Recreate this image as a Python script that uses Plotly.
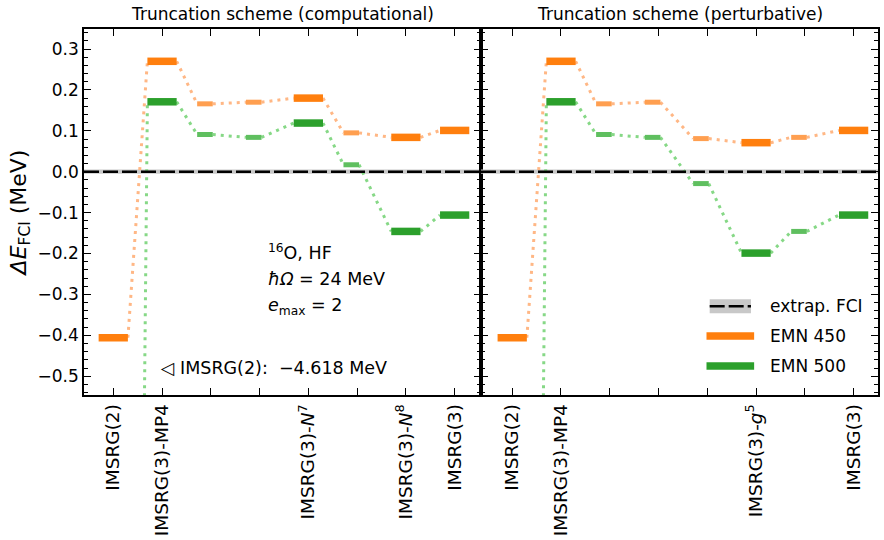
import plotly.graph_objects as go

# ---------------- data ----------------
ticks_left_pos = [0, 1, 4, 6, 7]
ticks_left = ["IMSRG(2)", "IMSRG(3)-MP4", "IMSRG(3)-<i>N</i><sup>7</sup>", "IMSRG(3)-<i>N</i><sup>8</sup>", "IMSRG(3)"]
ticks_right_pos = [0, 1, 5, 7]
ticks_right = ["IMSRG(2)", "IMSRG(3)-MP4", "IMSRG(3)-<i>g</i><sup>5</sup>", "IMSRG(3)"]

x_left = [0, 1, 1.88, 2.88, 4, 4.88, 6, 7]
kind_left = ["main", "main", "inter", "inter", "main", "inter", "main", "main"]
emn450_left = [-0.406, 0.270, 0.166, 0.170, 0.180, 0.095, 0.084, 0.101]
emn500_left = [-4.618, 0.171, 0.091, 0.084, 0.119, 0.017, -0.146, -0.106]

x_right = [0, 1, 1.88, 2.88, 3.87, 5, 5.88, 7]
kind_right = ["main", "main", "inter", "inter", "inter", "main", "inter", "main"]
emn450_right = [-0.406, 0.270, 0.166, 0.170, 0.081, 0.071, 0.084, 0.101]
emn500_right = [-4.618, 0.171, 0.091, 0.084, -0.029, -0.199, -0.146, -0.106]

fci_value = 0.0
fci_err = 0.004

series_names = ["EMN 450", "EMN 500"]
dark_colors = ["#ff7f0e", "#2ca02c"]
light_colors = ["#ff9f50", "#5fbf5f"]
dot_colors = ["#ffb785", "#86d886"]

FONT = "DejaVu Sans"

fig = go.Figure()


def extents(x, kind):
    if kind == "main":
        return x - 0.3, x + 0.3
    return x - 0.16, x + 0.16


def add_panel(xs, kinds, series_list, xa, ya, xr):
    # FCI band + line
    fig.add_trace(go.Scatter(x=[xr[0], xr[1]], y=[fci_value, fci_value], mode="lines",
                             line=dict(color="#c8c8c8", width=2 * fci_err * 410 + 1),
                             xaxis=xa, yaxis=ya, showlegend=False, hoverinfo="skip"))
    for si, vals in enumerate(series_list):
        # connectors
        cx, cy = [], []
        for i in range(len(xs) - 1):
            _, r = extents(xs[i], kinds[i])
            l, _ = extents(xs[i + 1], kinds[i + 1])
            cx += [r, l, None]
            cy += [vals[i], vals[i + 1], None]
        fig.add_trace(go.Scatter(x=cx, y=cy, mode="lines",
                                 line=dict(color=dot_colors[si], width=3, dash="3px,5px"),
                                 xaxis=xa, yaxis=ya, showlegend=False, hoverinfo="skip"))
        for kind, col, w in (("inter", light_colors[si], 5), ("main", dark_colors[si], 7.5)):
            bx, by = [], []
            for i in range(len(xs)):
                if kinds[i] != kind:
                    continue
                l, r = extents(xs[i], kinds[i])
                bx += [l, r, None]
                by += [vals[i], vals[i], None]
            fig.add_trace(go.Scatter(x=bx, y=by, mode="lines",
                                     line=dict(color=col, width=w),
                                     name=series_names[si],
                                     xaxis=xa, yaxis=ya, showlegend=False, hoverinfo="skip"))
    fig.add_trace(go.Scatter(x=[xr[0], xr[1]], y=[fci_value, fci_value], mode="lines",
                             line=dict(color="black", width=2.5, dash="15px,4px"),
                             xaxis=xa, yaxis=ya, showlegend=False, hoverinfo="skip"))


xr_left = [-0.6, 7.54]
xr_right = [-0.64, 7.5]
add_panel(x_left, kind_left, [emn450_left, emn500_left], "x", "y", xr_left)
add_panel(x_right, kind_right, [emn450_right, emn500_right], "x2", "y2", xr_right)

yrange = [-0.546, 0.349]
common_x = dict(tickmode="array", ticks="inside", ticklen=7, tickwidth=1,
                tickcolor="black", showline=True, linecolor="black", linewidth=1.5,
                mirror="ticks", showgrid=False, zeroline=False, tickangle=-90,
                minor=dict(tick0=0, dtick=1, ticks="inside", ticklen=7, tickwidth=1,
                           tickcolor="black", showgrid=False),
                tickfont=dict(family=FONT, size=18.5, color="black"))
common_y = dict(range=yrange, dtick=0.1, tick0=0, ticks="inside", ticklen=7, tickwidth=1,
                tickcolor="black", showline=True, linecolor="black", linewidth=1.5,
                mirror="ticks", showgrid=False, zeroline=False,
                minor=dict(dtick=0.02, ticks="inside", ticklen=4, tickcolor="black", showgrid=False),
                tickfont=dict(family=FONT, size=17, color="black"), tickformat=".1f")

fig.update_layout(
    width=884, height=540,
    margin=dict(l=84, r=4, t=29, b=144),
    paper_bgcolor="white", plot_bgcolor="white",
    showlegend=False,
    xaxis=dict(domain=[0, 0.5], range=xr_left, tickvals=ticks_left_pos, ticktext=ticks_left,
               anchor="y", **common_x),
    xaxis2=dict(domain=[0.5, 1], range=xr_right, tickvals=ticks_right_pos, ticktext=ticks_right,
                anchor="y2", **common_x),
    yaxis=dict(domain=[0, 1], anchor="x",
               title=dict(text="<i>ΔE</i><sub>FCI</sub> (MeV)", font=dict(family=FONT, size=22, color="black"), standoff=5),
               **common_y),
    yaxis2=dict(domain=[0, 1], anchor="x2", matches="y", showticklabels=False, **common_y),
)

ann_font = dict(family=FONT, size=17, color="black")
box_font = dict(family=FONT, size=17.5, color="black")
SHIFT = 3
annotations = [
    dict(text="Truncation scheme (computational)", x=0.25, y=1, xref="paper", yref="paper",
         xanchor="center", yanchor="bottom", yshift=3, showarrow=False, font=ann_font),
    dict(text="Truncation scheme (perturbative)", x=0.75, y=1, xref="paper", yref="paper",
         xanchor="center", yanchor="bottom", yshift=3, showarrow=False, font=ann_font),
    dict(text="<sup>16</sup>O, HF", x=3.08, y=-0.197, xref="x", yref="y", xanchor="left",
         yanchor="middle", xshift=SHIFT, showarrow=False, font=box_font),
    dict(text="<i>ħΩ</i> = 24 MeV", x=3.08, y=-0.263, xref="x", yref="y", xanchor="left",
         yanchor="middle", xshift=SHIFT, showarrow=False, font=box_font),
    dict(text="<i>e</i><sub>max</sub> = 2", x=3.08, y=-0.329, xref="x", yref="y", xanchor="left",
         yanchor="middle", xshift=SHIFT, showarrow=False, font=box_font),
    dict(text="◁ IMSRG(2):  −4.618 MeV", x=0.86, y=-0.48, xref="x", yref="y", xanchor="left",
         yanchor="middle", xshift=SHIFT, showarrow=False, font=box_font),
]

# manual legend (paper coordinates)
leg_x0, leg_x1, leg_tx = 0.784, 0.844, 0.862
leg_rows = [0.2425, 0.161, 0.079]
leg_labels = ["extrap. FCI"] + series_names
shapes = [
    dict(type="rect", xref="paper", yref="paper", x0=leg_x0 + 0.004, x1=leg_x1 - 0.004,
         y0=leg_rows[0] - 0.019, y1=leg_rows[0] + 0.019, fillcolor="#c8c8c8", line=dict(width=0)),
    dict(type="line", xref="paper", yref="paper", x0=leg_x0 + 0.004, x1=leg_x1 - 0.004,
         y0=leg_rows[0], y1=leg_rows[0], line=dict(color="black", width=2.5, dash="15px,4px")),
    dict(type="line", xref="paper", yref="paper", x0=leg_x0, x1=leg_x1,
         y0=leg_rows[1], y1=leg_rows[1], line=dict(color=dark_colors[0], width=7.5)),
    dict(type="line", xref="paper", yref="paper", x0=leg_x0, x1=leg_x1,
         y0=leg_rows[2], y1=leg_rows[2], line=dict(color=dark_colors[1], width=7.5)),
]
for lab, yy in zip(leg_labels, leg_rows):
    annotations.append(dict(text=lab, x=leg_tx, y=yy, xref="paper", yref="paper",
                            xanchor="left", yanchor="middle", showarrow=False, font=ann_font))

fig.update_layout(annotations=annotations, shapes=shapes)
fig.write_html("out.html")
